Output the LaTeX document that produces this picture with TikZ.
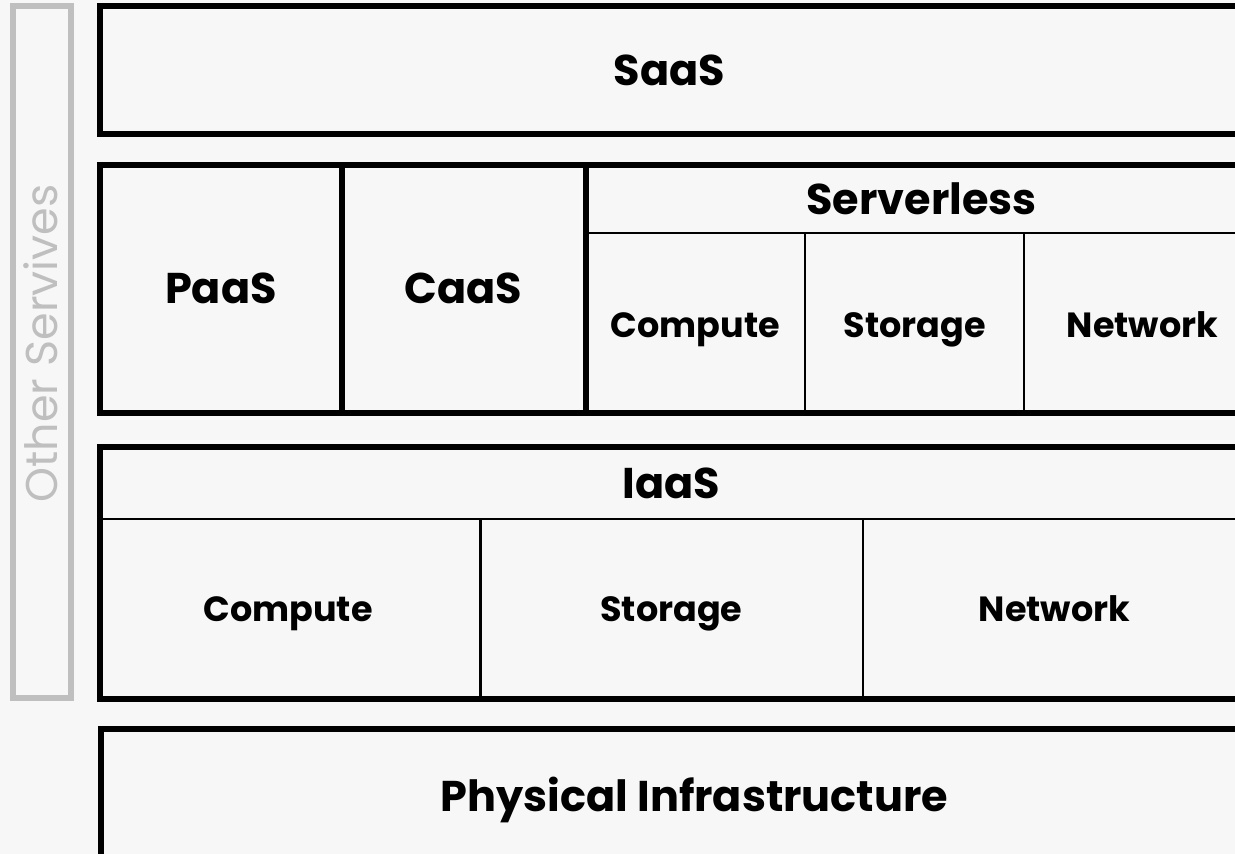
\documentclass[tikz,border=0pt]{standalone}
\usepackage{fontspec}
\setmainfont{Poppins}
\definecolor{bg}{HTML}{F7F7F7}
\definecolor{frame}{HTML}{BFBFBF}
\definecolor{ink}{HTML}{000000}
\begin{document}
\begin{tikzpicture}[x=1pt,y=-1pt,
  thickline/.style={draw=ink,line width=6pt},
  thinline/.style={draw=ink,line width=2.6pt},
  big/.style={anchor=base,inner sep=0pt,text=ink,font=\fontsize{43}{47}\selectfont\bfseries},
  small/.style={anchor=base,inner sep=0pt,text=ink,font=\fontsize{35}{40}\selectfont\bfseries},
  side/.style={anchor=base,inner sep=0pt,text=frame,rotate=90,font=\fontsize{44.5}{48}\selectfont}]
\fill[bg] (0,0) rectangle (1235,854);
\useasboundingbox (0,0) rectangle (1235,854);
% side frame
\draw[frame,line width=6pt] (13,6) rectangle (71,698);
\node[side] (other) at (57,343.5) {Other Servives};
% SaaS
\draw[thickline] (99.5,6) rectangle (1300,134);
\node[big] (saas) at (669.5,85) {SaaS};
% PaaS / CaaS / Serverless
\draw[thickline] (99.5,164.5) rectangle (1300,413);
\draw[thickline] (342,164.5) -- (342,413);
\draw[thickline] (585.5,164.5) -- (585.5,413);
\draw[thinline] (585.5,233) -- (1300,233);
\draw[thinline] (805,233) -- (805,413);
\draw[thinline] (1024,233) -- (1024,413);
\node[big] (paas) at (221,303.5) {PaaS};
\node[big] (caas) at (463.5,303.5) {CaaS};
\node[big] (serverless) at (921.5,214.5) {Serverless};
\node[small] (scompute) at (695.5,337.5) {Compute};
\node[small] (sstorage) at (915,337.5) {Storage};
\node[small] (snetwork) at (1142.5,337.5) {Network};
% IaaS
\draw[thickline] (99.5,446.7) rectangle (1300,699);
\draw[thinline] (99.5,519) -- (1300,519);
\draw[thinline] (480.5,519) -- (480.5,699);
\draw[thinline] (863,519) -- (863,699);
\node[big] (iaas) at (671.5,498.5) {IaaS};
\node[small] (icompute) at (288,621.5) {Compute};
\node[small] (istorage) at (671.5,621.5) {Storage};
\node[small] (inetwork) at (1054.5,621.5) {Network};
% Physical
\draw[thickline] (101,729) rectangle (1300,900);
\node[big] (phys) at (694.5,811) {Physical Infrastructure};
\end{tikzpicture}
\end{document}
